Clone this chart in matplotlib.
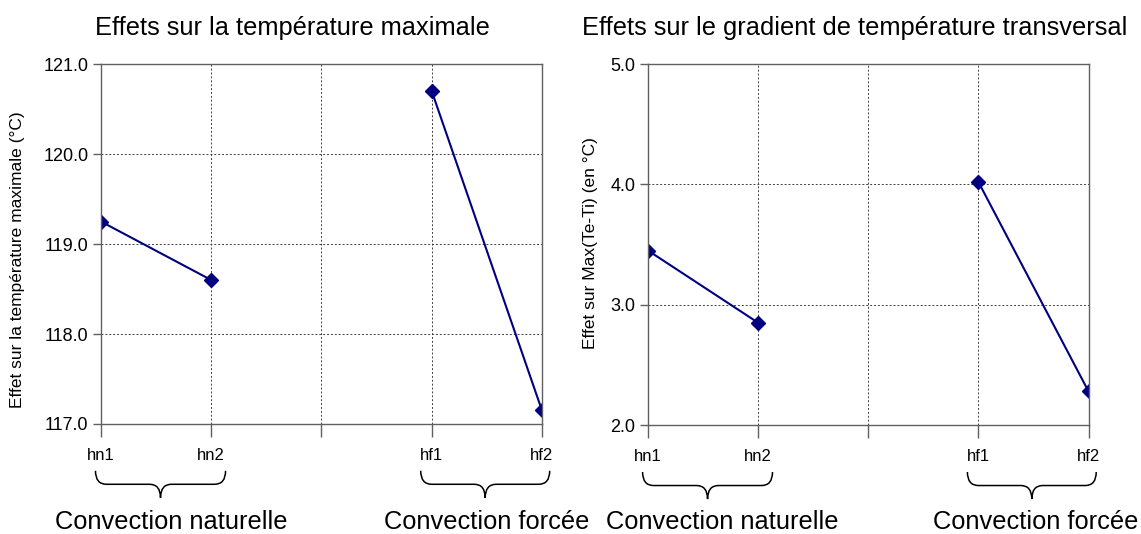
import matplotlib.pyplot as plt
from matplotlib.path import Path
from matplotlib.patches import PathPatch
import matplotlib.transforms as mtransforms

plt.rcParams['font.family'] = ['Liberation Sans', 'DejaVu Sans']

# data
positions = [0, 1, 3, 4]
tick_labels = ['hn1', 'hn2', 'hf1', 'hf2']
temp_max = [119.25, 118.6, 120.7, 117.15]
gradient = [3.45, 2.85, 4.02, 2.28]
groups = ['Convection naturelle', 'Convection forcée']

navy = '#000080'
spine_col = '#606060'
W, H = 1141, 534


def draw_brace(ax, x0, x1, y_top=-0.13, depth=0.075):
    trans = mtransforms.blended_transform_factory(ax.transData, ax.transAxes)
    xm = (x0 + x1) / 2
    r = 0.1
    ym = y_top - depth * 0.5
    yb = y_top - depth
    verts = [(x0, y_top), (x0, ym), (x0 + r, ym),
             (xm - r, ym), (xm, ym), (xm, yb),
             (xm, ym), (xm + r, ym),
             (x1 - r, ym), (x1, ym), (x1, y_top)]
    codes = [Path.MOVETO, Path.CURVE3, Path.CURVE3,
             Path.LINETO, Path.CURVE3, Path.CURVE3,
             Path.CURVE3, Path.CURVE3,
             Path.LINETO, Path.CURVE3, Path.CURVE3]
    patch = PathPatch(Path(verts, codes), fill=False, lw=1.1, color='black',
                      transform=trans, clip_on=False)
    ax.add_patch(patch)


def setup(ax, ylim, values):
    ax.plot(positions[:2], values[:2], color=navy, lw=1.5, marker='D', ms=7)
    ax.plot(positions[2:], values[2:], color=navy, lw=1.5, marker='D', ms=7)
    ax.set_xlim(0, 4)
    ax.set_ylim(*ylim)
    yt = range(int(ylim[0]), int(ylim[1]) + 1)
    ax.set_yticks(yt)
    ax.set_yticklabels([f'{v:.1f}' for v in yt])
    ax.set_xticks([0, 1, 2, 3, 4])
    ax.set_xticklabels(tick_labels[:2] + [''] + tick_labels[2:])
    ax.grid(True, color='#404040', ls=(0, (2, 2)), lw=0.7)
    for s in ax.spines.values():
        s.set_color(spine_col)
        s.set_linewidth(1.0)
    ax.tick_params(axis='x', length=9, width=1, color=spine_col, pad=8, labelsize=12)
    ax.tick_params(axis='y', length=6, width=1, color=spine_col, pad=3, labelsize=13)
    draw_brace(ax, -0.05, 1.13)
    draw_brace(ax, 2.9, 4.07)


fig = plt.figure(figsize=(W / 100, H / 100), dpi=100)
ax1 = fig.add_axes([0.0885, 0.206, 0.3865, 0.674])
ax2 = fig.add_axes([0.568, 0.204, 0.386, 0.676])

setup(ax1, (117, 121), temp_max)
setup(ax2, (2, 5), gradient)

fig.text(18 / W, 1 - 260 / H, 'Effet sur la température maximale (°C)',
         rotation=90, ha='center', va='center', fontsize=12.5)
fig.text(590 / W, 1 - 243 / H, 'Effet sur Max(Te-Ti) (en °C)',
         rotation=90, ha='center', va='center', fontsize=12.5)

fig.text(292 / W, 1 - 28 / H, 'Effets sur la température maximale',
         ha='center', va='center', fontsize=18.3)
fig.text(855 / W, 1 - 28 / H, 'Effets sur le gradient de température transversal',
         ha='center', va='center', fontsize=18.3)

group_x = [171, 487, 722, 1036]
for x, g in zip(group_x, groups * 2):
    fig.text(x / W, 1 - 522 / H, g, ha='center', va='center', fontsize=18.3)

fig.savefig('out.png', dpi=100)
